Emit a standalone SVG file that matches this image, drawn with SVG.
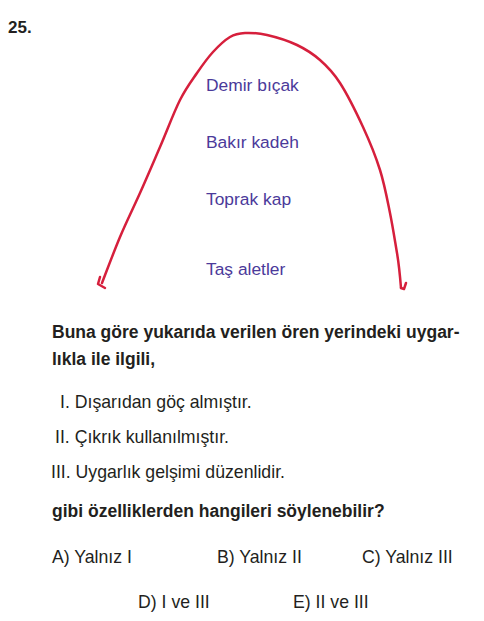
<svg xmlns="http://www.w3.org/2000/svg" width="484" height="621" viewBox="0 0 484 621">
<style>
.t{font-family:"Liberation Sans",Arial,sans-serif;font-size:17.7px;fill:#231f20}
.b{font-weight:bold;font-size:17.5px}
.p{font-family:"Liberation Sans",Arial,sans-serif;font-size:17.4px;fill:#4b3a9a}
.arc{fill:none;stroke:#d61f3c;stroke-width:2.5;stroke-linecap:round;stroke-linejoin:round}
</style>
<rect width="484" height="621" fill="#ffffff"/>
<text class="t b" x="8" y="33" style="font-size:17px">25.</text>
<g id="connectors">
<path class="arc" d="M102,283 C105,275.3 113.7,252 120,237 C126.3,222 133.3,208 140,193 C146.7,178 153.3,162.5 160,147 C166.7,131.5 173.8,112.3 180,100 C186.2,87.7 191.5,81 197,73 C202.5,65 207.5,58 213,52 C218.5,46 224.7,40.2 230,37 C235.3,33.8 238.8,33.3 245,33 C251.2,32.7 258.3,33 267,35 C275.7,37 288.2,40.8 297,45 C305.8,49.2 312.8,53.7 320,60 C327.2,66.3 332.8,71.8 340,83 C347.2,94.2 356.3,112.5 363,127 C369.7,141.5 375.5,155.7 380,170 C384.5,184.3 387.2,199.2 390,213 C392.8,226.8 395,241.3 397,253 C399,264.7 400.2,278 401,288"/>
<path class="arc" d="M100,277 L98,284 L105,288"/>
<path class="arc" d="M401,288 L404,289 L406,283"/>
</g>
<g id="node-demir"><text class="p" x="206" y="91">Demir bıçak</text></g>
<g id="node-bakir"><text class="p" x="206" y="148">Bakır kadeh</text></g>
<g id="node-toprak"><text class="p" x="206" y="205">Toprak kap</text></g>
<g id="node-tas"><text class="p" x="206" y="275">Taş aletler</text></g>
<text class="t b" x="52" y="338">Buna göre yukarıda verilen ören yerindeki uygar-</text>
<text class="t b" x="52" y="365">lıkla ile ilgili,</text>
<text class="t" x="60" y="408">I. Dışarıdan göç almıştır.</text>
<text class="t" x="55" y="443">II. Çıkrık kullanılmıştır.</text>
<text class="t" x="51" y="478">III. Uygarlık gelşimi düzenlidir.</text>
<text class="t b" x="52" y="517">gibi özelliklerden hangileri söylenebilir?</text>
<text class="t" x="52" y="563">A) Yalnız I</text>
<text class="t" x="217" y="563">B) Yalnız II</text>
<text class="t" x="362" y="563">C) Yalnız III</text>
<text class="t" x="138" y="608">D) I ve III</text>
<text class="t" x="293" y="608">E) II ve III</text>
</svg>
